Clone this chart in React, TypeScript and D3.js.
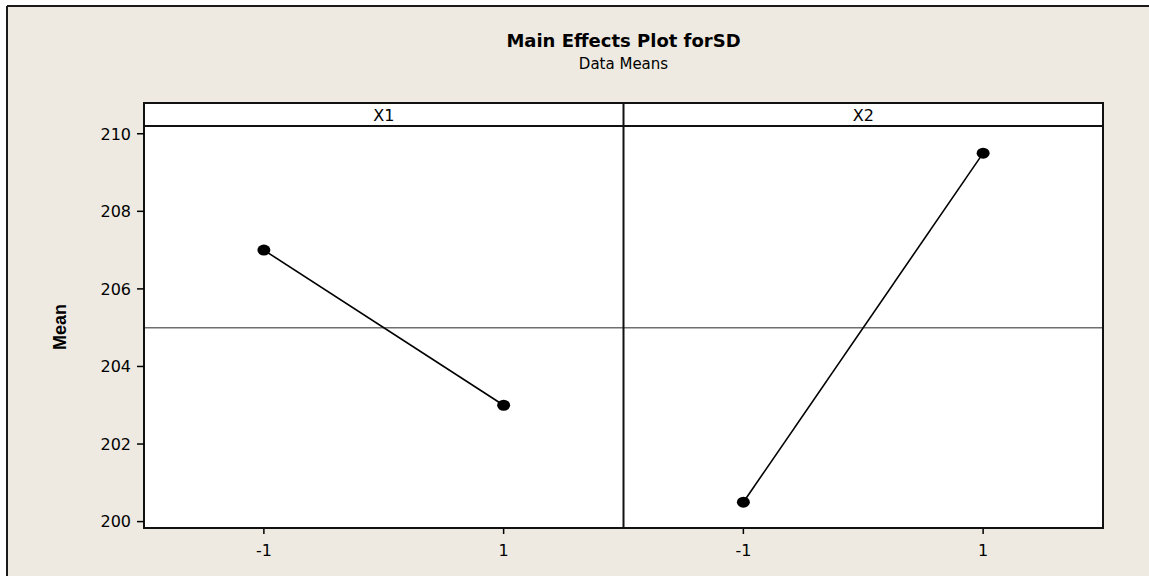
import React from "react";
import * as d3 from "d3";

// Factor names and their levels
const factors = ["X1", "X2"];
const levels = [-1, 1];
// Mean response at each level of each factor
const x1Means = [207, 203];
const x2Means = [200.5, 209.5];
const yTicks = [200, 202, 204, 206, 208, 210];

const W = 1149;
const H = 576;
const BG = "#EEEAE1";

const left = 144;
const right = 1103;
const stripTop = 103;
const plotTop = 126;
const plotBottom = 528;

export default function App() {
  const series = [x1Means, x2Means];
  const grandMean = d3.mean(series.flat()) as number;

  const panel = d3
    .scaleBand<string>()
    .domain(factors)
    .range([left, right])
    .paddingInner(0)
    .paddingOuter(0);

  const y = d3.scaleLinear().domain([199.835, 210.2]).range([plotBottom, plotTop]);

  const font = "'DejaVu Sans', Verdana, sans-serif";

  return (
    <svg
      width={W}
      height={H}
      style={{ position: "absolute", left: 0, top: 0, display: "block" }}
    >
      <rect x={0} y={0} width={W} height={H} fill="#ffffff" />
      <rect x={7} y={6} width={W - 7} height={H - 6} fill={BG} />
      <line x1={7} x2={W} y1={6} y2={6} stroke="#1a1a1a" strokeWidth={2} />
      <line x1={7} x2={7} y1={6} y2={H} stroke="#1a1a1a" strokeWidth={2} />

      <text
        x={(left + right) / 2}
        y={47}
        textAnchor="middle"
        fontFamily={font}
        fontWeight="bold"
        fontSize={18}
        fill="#000"
      >
        Main Effects Plot forSD
      </text>
      <text
        x={(left + right) / 2}
        y={69}
        textAnchor="middle"
        fontFamily={font}
        fontSize={15}
        fill="#000"
      >
        Data Means
      </text>

      {/* Y axis label */}
      <text
        transform={`translate(66, ${(plotTop + plotBottom) / 2}) rotate(-90)`}
        textAnchor="middle"
        fontFamily="'Liberation Sans Narrow', 'Arial Narrow', 'Liberation Sans', sans-serif"
        fontWeight="bold"
        fontSize={18}
        fill="#000"
      >
        Mean
      </text>

      {factors.map((f, i) => {
        const x0 = panel(f) as number;
        const bw = panel.bandwidth();
        const x = d3.scaleLinear().domain([-2, 2]).range([x0, x0 + bw]);
        const pts = levels.map((lv, j) => [x(lv), y(series[i][j])] as [number, number]);
        const line = d3.line();
        return (
          <g key={f}>
            {/* strip header */}
            <rect x={x0} y={stripTop} width={bw} height={plotTop - stripTop} fill="#fff" />
            <text
              x={x0 + bw / 2}
              y={121}
              textAnchor="middle"
              fontFamily={font}
              fontSize={16}
              fill="#000"
            >
              {f}
            </text>
            {/* plot area */}
            <rect x={x0} y={plotTop} width={bw} height={plotBottom - plotTop} fill="#fff" />
            <line
              x1={x0}
              x2={x0 + bw}
              y1={y(grandMean)}
              y2={y(grandMean)}
              stroke="#6f6f6f"
              strokeWidth={1.5}
            />
            <path d={line(pts) as string} fill="none" stroke="#000" strokeWidth={1.6} />
            {pts.map((p, k) => (
              <ellipse key={k} cx={p[0]} cy={p[1]} rx={6.5} ry={5.5} fill="#000" />
            ))}
            {/* x ticks */}
            {levels.map((lv) => (
              <g key={lv}>
                <line
                  x1={x(lv)}
                  x2={x(lv)}
                  y1={plotBottom}
                  y2={plotBottom + 6}
                  stroke="#000"
                  strokeWidth={1.5}
                />
                <text
                  x={x(lv)}
                  y={556}
                  textAnchor="middle"
                  fontFamily={font}
                  fontSize={16}
                  fill="#000"
                >
                  {lv}
                </text>
              </g>
            ))}
          </g>
        );
      })}

      {/* frame lines */}
      <rect
        x={left}
        y={stripTop}
        width={right - left}
        height={plotBottom - stripTop}
        fill="none"
        stroke="#111"
        strokeWidth={2}
      />
      <line x1={left} x2={right} y1={plotTop} y2={plotTop} stroke="#111" strokeWidth={2} />
      {factors.slice(1).map((f) => (
        <line
          key={f}
          x1={panel(f) as number}
          x2={panel(f) as number}
          y1={stripTop}
          y2={plotBottom}
          stroke="#111"
          strokeWidth={2}
        />
      ))}

      {/* y ticks */}
      {yTicks.map((t) => (
        <g key={t}>
          <line x1={left - 7} x2={left} y1={y(t)} y2={y(t)} stroke="#000" strokeWidth={1.5} />
          <text
            x={left - 13}
            y={y(t)}
            dy="0.36em"
            textAnchor="end"
            fontFamily={font}
            fontSize={16}
            fill="#000"
          >
            {t}
          </text>
        </g>
      ))}
    </svg>
  );
}
